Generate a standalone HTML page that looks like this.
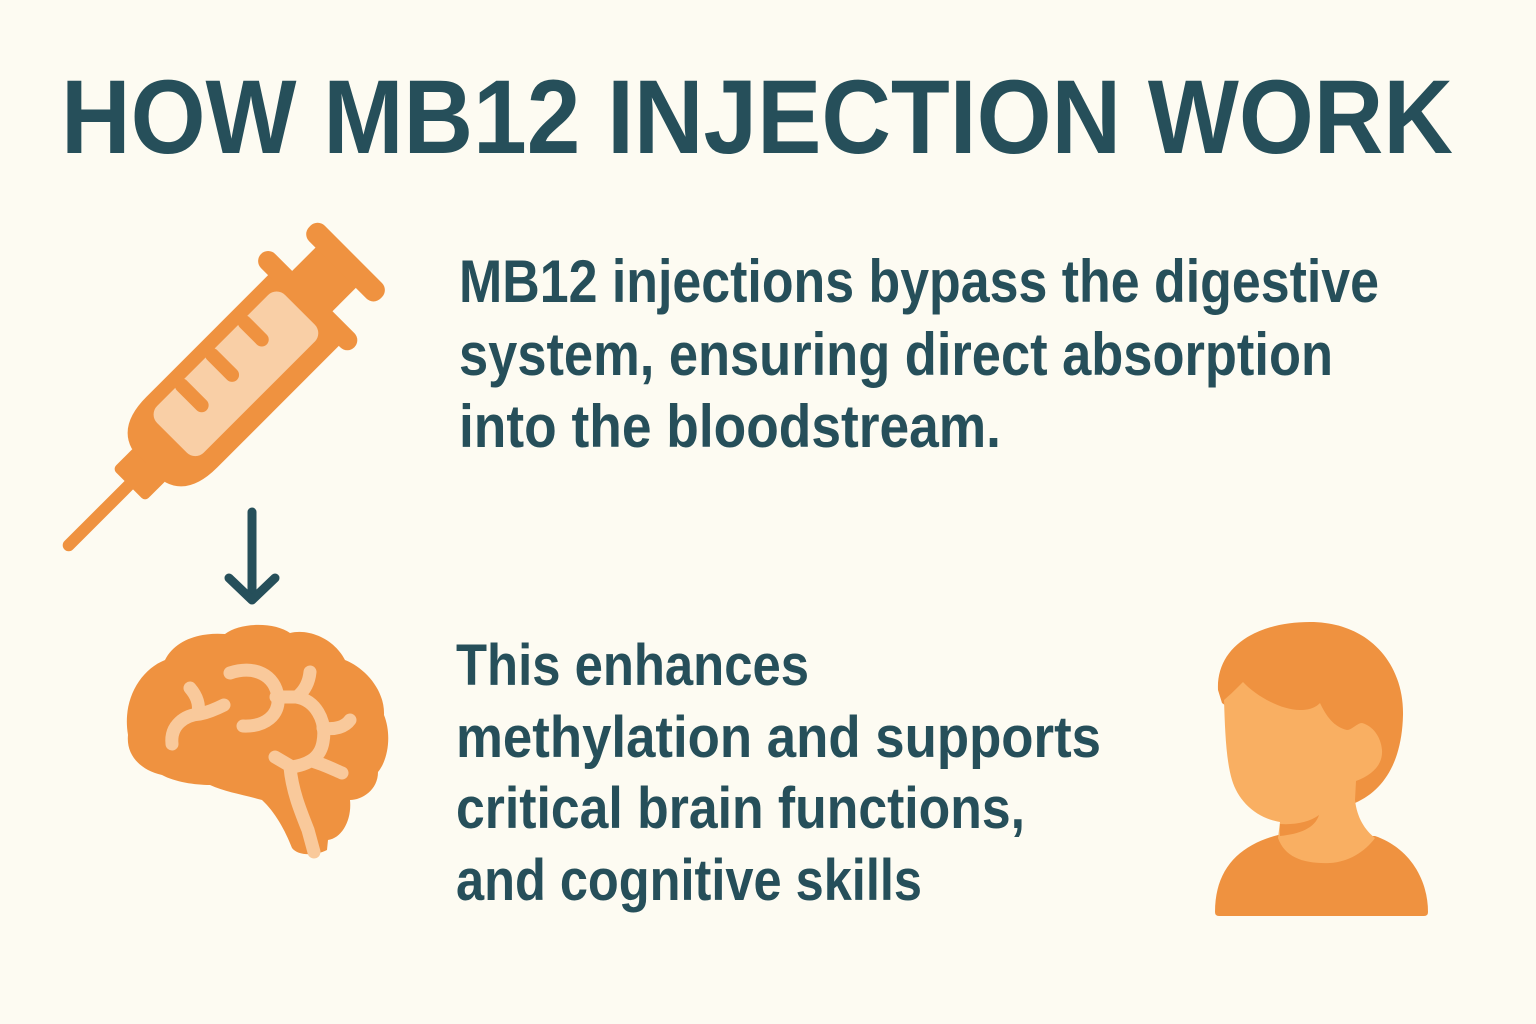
<!DOCTYPE html>
<html>
<head>
<meta charset="utf-8">
<style>
  html, body { margin:0; padding:0; background:#FDFBF2; }
  svg { display:block; }
  .t { font-family:"Liberation Sans", "DejaVu Sans", sans-serif; font-weight:bold; fill:#264F5A; }
</style>
</head>
<body>
<svg width="1536" height="1024" viewBox="0 0 1536 1024" xmlns="http://www.w3.org/2000/svg">
  <rect width="1536" height="1024" fill="#FDFBF2"/>

  <!-- Title -->
  <text class="t" x="61" y="153" font-size="105" textLength="1392" lengthAdjust="spacingAndGlyphs">HOW MB12 INJECTION WORK</text>

  <!-- Block 1 text -->
  <text class="t" x="459" y="302" font-size="60" textLength="920" lengthAdjust="spacingAndGlyphs">MB12 injections bypass the digestive</text>
  <text class="t" x="459" y="375" font-size="60" textLength="874" lengthAdjust="spacingAndGlyphs">system, ensuring direct absorption</text>
  <text class="t" x="459" y="447" font-size="60" textLength="542" lengthAdjust="spacingAndGlyphs">into the bloodstream.</text>

  <!-- Block 2 text -->
  <text class="t" x="456" y="685" font-size="58" textLength="353" lengthAdjust="spacingAndGlyphs">This enhances</text>
  <text class="t" x="456" y="757" font-size="58" textLength="645" lengthAdjust="spacingAndGlyphs">methylation and supports</text>
  <text class="t" x="456" y="828" font-size="58" textLength="569" lengthAdjust="spacingAndGlyphs">critical brain functions,</text>
  <text class="t" x="456" y="900" font-size="58" textLength="466" lengthAdjust="spacingAndGlyphs">and cognitive skills</text>

  <!-- Syringe -->
  <g transform="translate(307,307) rotate(-45)" fill="#EF9240">
    <rect x="-343" y="-6" width="100" height="12" rx="6"/>
    <rect x="-252" y="-23" width="40" height="46" rx="5"/>
    <path d="M -224,-24 Q -216,-50 -177,-50 L -2,-50 L -2,50 L -177,50 Q -216,50 -224,24 Z"/>
    <rect x="-5" y="-70" width="20" height="132" rx="10"/>
    <rect x="8" y="-36" width="45" height="57"/>
    <rect x="48" y="-55" width="22" height="101" rx="10"/>
    <rect x="-188" y="-36" width="181" height="66" rx="12" fill="#F9CFA6"/>
    <rect x="-151" y="-40" width="14" height="42" rx="7"/>
    <rect x="-108" y="-40" width="14" height="42" rx="7"/>
    <rect x="-62" y="-40" width="14" height="38" rx="7"/>
  </g>

  <!-- Arrow -->
  <g stroke="#264F5A" stroke-width="9" stroke-linecap="round" stroke-linejoin="round" fill="none">
    <line x1="252" y1="512" x2="252" y2="598"/>
    <polyline points="229,578 252,600 275,578"/>
  </g>

  <!-- Brain -->
  <path fill="#EF9240" d="M 128,735
    C 122,700 140,670 165,660
    C 175,640 200,632 225,634
    C 240,622 275,622 290,633
    C 310,628 335,640 345,660
    C 365,668 385,690 384,715
    C 392,735 388,760 378,772
    C 378,790 362,800 350,800
    C 352,820 342,838 328,840
    L 327,850
    C 315,856 298,856 292,848
    C 285,830 275,812 262,800
    C 245,795 225,792 210,785
    C 195,785 175,782 162,775
    C 140,770 126,755 128,735 Z"/>
  <g stroke="#F9C99B" stroke-width="13" stroke-linecap="round" fill="none">
    <path d="M 172,744 C 170,725 185,715 200,714 C 210,712 218,708 224,705"/>
    <path d="M 198,714 C 200,703 196,695 190,688"/>
    <path d="M 230,673 C 255,665 275,675 278,697 C 280,715 265,727 243,726"/>
    <path d="M 276,697 L 297,697"/>
    <path d="M 296,697 C 315,700 327,720 323,742 C 320,760 305,765 292,767 L 275,757"/>
    <path d="M 298,696 C 305,690 309,682 310,672"/>
    <path d="M 323,728 C 335,730 345,727 350,720"/>
    <path d="M 315,762 C 325,765 335,770 342,773"/>
    <path d="M 290,767 C 292,790 300,810 308,830 L 314,852"/>
  </g>

  <!-- Person -->
  <path fill="#EF9240" d="M 1215,912 C 1215,868 1240,845 1278,835 L 1375,836 C 1410,848 1428,880 1428,912 Q 1428,916 1424,916 L 1219,916 Q 1215,916 1215,912 Z"/>
  <path fill="#EF9240" d="M 1222,703 L 1218,690 C 1216,648 1255,622 1310,622 C 1370,622 1404,665 1403,715 C 1402,760 1385,790 1355,803 L 1340,790 Z"/>
  <path fill="#F9AF62" d="M 1243,682
    C 1255,695 1280,710 1300,710
    C 1312,710 1317,706 1320,703
    C 1326,716 1334,727 1347,730
    C 1352,730 1357,723 1362,723
    C 1373,726 1381,737 1382,750
    C 1383,765 1372,775 1356,781
    L 1355,800
    C 1357,818 1365,830 1375,838
    C 1365,852 1348,862 1330,863
    C 1305,864 1285,858 1278,838
    L 1280,822
    C 1255,818 1238,800 1232,780
    C 1226,760 1225,730 1224,700
    C 1230,695 1237,688 1243,682 Z"/>
  <path fill="#EF9240" d="M 1280,824 C 1295,825 1310,822 1319,815 C 1315,828 1300,834 1280,836 Z"/>
</svg>
</body>
</html>
